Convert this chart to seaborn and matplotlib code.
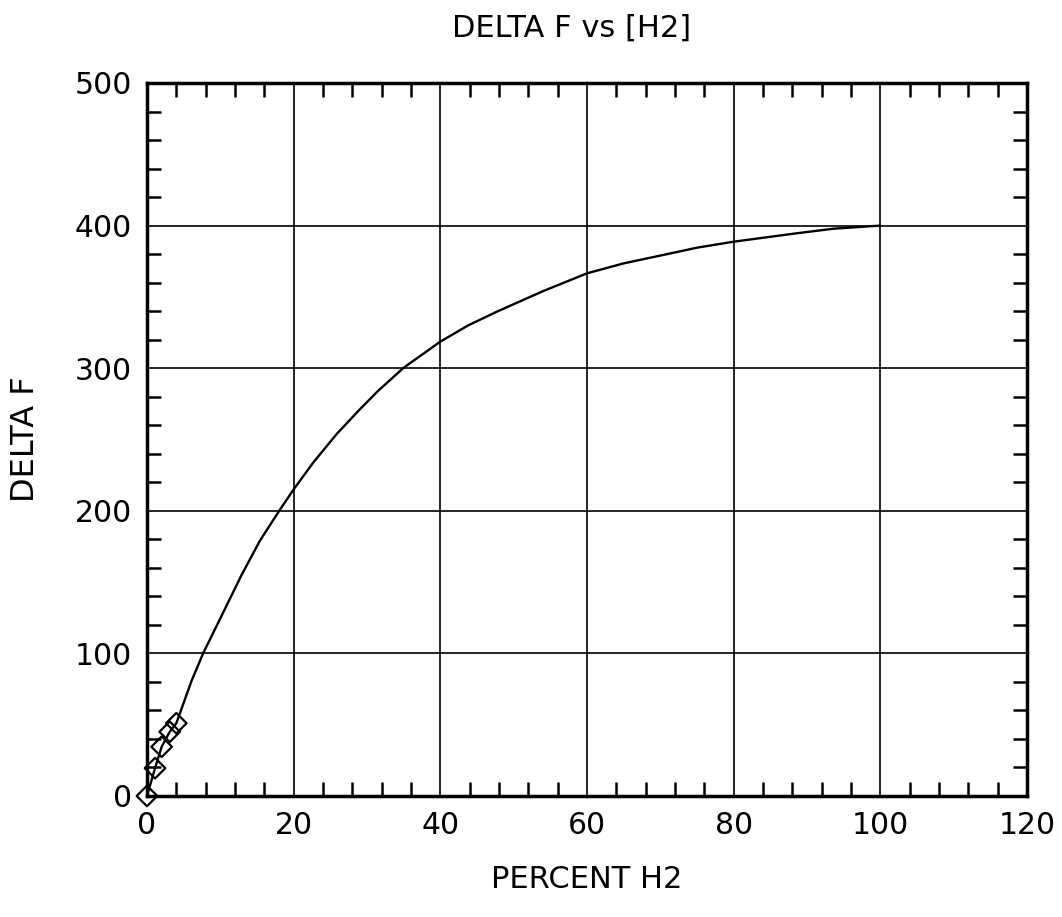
import matplotlib
matplotlib.use("Agg")
import matplotlib.pyplot as plt
import seaborn as sns
import pandas as pd
from matplotlib.ticker import MultipleLocator

# Data
curve_x = [0, 1.1, 2.0, 3.1, 4.0, 6.1, 7.7, 9.95, 12.9, 15.4, 18.1, 20.0,
           22.7, 25.9, 29.0, 31.5, 35.0, 40.0, 43.8, 47.7, 54.0, 60.0, 65.0,
           70.4, 75.0, 80.0, 88.6, 93.6, 100.0]
curve_y = [0, 19.5, 34.5, 45, 51, 81, 100.5, 124, 155, 179, 200.5, 215,
           234, 254, 271, 284, 300.3, 318.6, 330, 339.6, 354, 366.5, 373.5,
           379.4, 384.5, 388.7, 394.6, 397.8, 400]
point_x = [0, 1.1, 2.0, 3.1, 4.0]
point_y = [0, 19.5, 34.5, 45, 51]

x_ticks = [0, 20, 40, 60, 80, 100, 120]
y_ticks = [0, 100, 200, 300, 400, 500]

title = "DELTA F vs [H2]"
xlabel = "PERCENT H2"
ylabel = "DELTA F"

sns.set_style("ticks")
plt.rcParams['font.family'] = ['DejaVu Sans']
plt.rcParams['text.color'] = 'black'
plt.rcParams['axes.labelcolor'] = 'black'
plt.rcParams['xtick.color'] = 'black'
plt.rcParams['ytick.color'] = 'black'

curve = pd.DataFrame({"x": curve_x, "y": curve_y})
pts = pd.DataFrame({"x": point_x, "y": point_y})

fig = plt.figure(figsize=(10.62, 9.17), dpi=100)
ax = fig.add_axes([0.1384, 0.132, 0.8286, 0.7775])

sns.lineplot(data=curve, x="x", y="y", ax=ax, color="black", linewidth=1.7,
             sort=False, estimator=None)
sns.scatterplot(data=pts, x="x", y="y", ax=ax, marker="D", s=110,
                facecolor="none", edgecolor="black", linewidth=1.6, zorder=5,
                clip_on=False)

ax.set_xlim(0, 120)
ax.set_ylim(0, 500)
ax.set_xticks(x_ticks)
ax.set_yticks(y_ticks)
ax.xaxis.set_minor_locator(MultipleLocator(4))
ax.yaxis.set_minor_locator(MultipleLocator(20))
ax.grid(True, which="major", color="black", linewidth=1.2)
ax.tick_params(which="both", direction="in", top=True, right=True,
               labelsize=21.5, color="black", labelcolor="black")
ax.tick_params(which="major", length=0, pad=11)
ax.tick_params(which="minor", length=10, width=1.8)
for s in ax.spines.values():
    s.set_linewidth(2.5)
    s.set_color("black")
    s.set_visible(True)

ax.set_title(title, fontsize=22, pad=33, color="black", x=0.482)
ax.set_xlabel(xlabel, fontsize=22, labelpad=18, color="black")
ax.set_ylabel(ylabel, fontsize=23, labelpad=24, color="black")

fig.savefig("out.png", dpi=100, facecolor="white")
